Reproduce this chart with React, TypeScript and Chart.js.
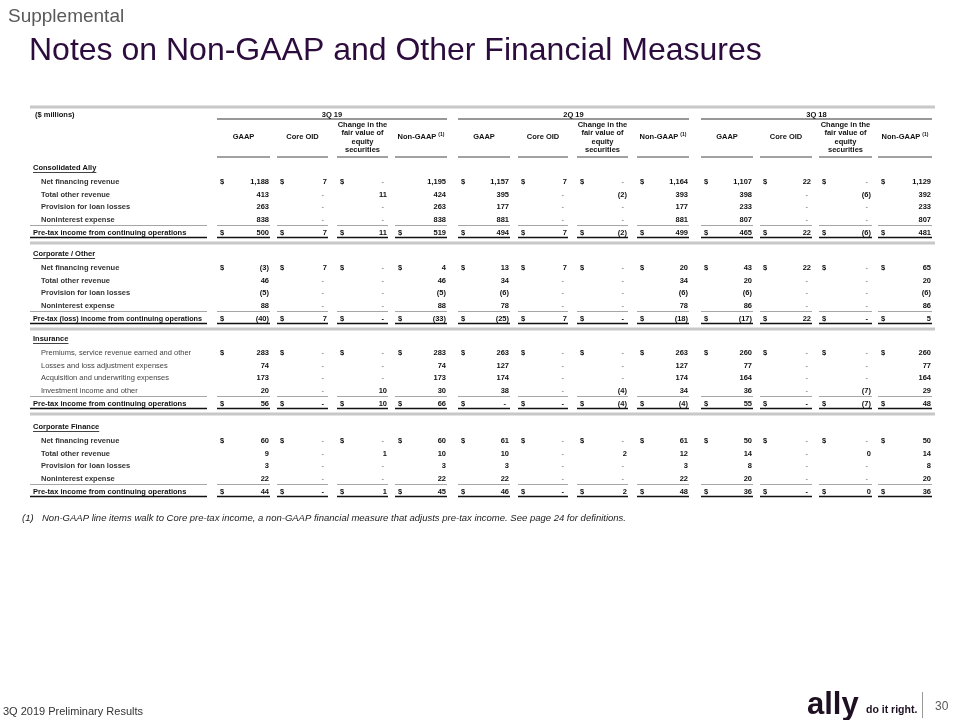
import React, { useEffect, useRef } from "react";
import { Chart, registerables } from "chart.js";

Chart.register(...registerables);

// ---------- DATA ----------
const periods = ["3Q 19", "2Q 19", "3Q 18"];
const columnHeaders = ["GAAP", "Core OID", "Change in the|fair value of|equity|securities", "Non-GAAP"];
const unitLabel = "($ millions)";
const sectionTitles = ["Consolidated Ally", "Corporate / Other", "Insurance", "Corporate Finance"];

const consolidatedRows = [
  "Net financing revenue",
  "Total other revenue",
  "Provision for loan losses",
  "Noninterest expense",
  "Pre-tax income from continuing operations",
];
// null = "-" (nil)
const consolidatedValues: (number | null)[][] = [
  [1188, 7, null, 1195, 1157, 7, null, 1164, 1107, 22, null, 1129],
  [413, null, 11, 424, 395, null, -2, 393, 398, null, -6, 392],
  [263, null, null, 263, 177, null, null, 177, 233, null, null, 233],
  [838, null, null, 838, 881, null, null, 881, 807, null, null, 807],
  [500, 7, 11, 519, 494, 7, -2, 499, 465, 22, -6, 481],
];

const corporateRows = [
  "Net financing revenue",
  "Total other revenue",
  "Provision for loan losses",
  "Noninterest expense",
  "Pre-tax (loss) income from continuing operations",
];
const corporateValues: (number | null)[][] = [
  [-3, 7, null, 4, 13, 7, null, 20, 43, 22, null, 65],
  [46, null, null, 46, 34, null, null, 34, 20, null, null, 20],
  [-5, null, null, -5, -6, null, null, -6, -6, null, null, -6],
  [88, null, null, 88, 78, null, null, 78, 86, null, null, 86],
  [-40, 7, null, -33, -25, 7, null, -18, -17, 22, null, 5],
];

const insuranceRows = [
  "Premiums, service revenue earned and other",
  "Losses and loss adjustment expenses",
  "Acquisition and underwriting expenses",
  "Investment income and other",
  "Pre-tax income from continuing operations",
];
const insuranceValues: (number | null)[][] = [
  [283, null, null, 283, 263, null, null, 263, 260, null, null, 260],
  [74, null, null, 74, 127, null, null, 127, 77, null, null, 77],
  [173, null, null, 173, 174, null, null, 174, 164, null, null, 164],
  [20, null, 10, 30, 38, null, -4, 34, 36, null, -7, 29],
  [56, null, 10, 66, null, null, -4, -4, 55, null, -7, 48],
];

const financeRows = [
  "Net financing revenue",
  "Total other revenue",
  "Provision for loan losses",
  "Noninterest expense",
  "Pre-tax income from continuing operations",
];
const financeValues: (number | null)[][] = [
  [60, null, null, 60, 61, null, null, 61, 50, null, null, 50],
  [9, null, 1, 10, 10, null, 2, 12, 14, null, 0, 14],
  [3, null, null, 3, 3, null, null, 3, 8, null, null, 8],
  [22, null, null, 22, 22, null, null, 22, 20, null, null, 20],
  [44, null, 1, 45, 46, null, 2, 48, 36, null, 0, 36],
];

// cells (section, row, column) that carry no "$" despite being a first/total row
const noDollarCells = [[0, 0, 3]];

const pageLabel = "Supplemental";
const titleText = "Notes on Non-GAAP and Other Financial Measures";
const footnoteMark = "(1)";
const footnoteText =
  "Non-GAAP line items walk to Core pre-tax income, a non-GAAP financial measure that adjusts pre-tax income. See page 24 for definitions.";
const footerText = "3Q 2019 Preliminary Results";
const pageNumber = "30";

// ---------- LAYOUT ----------
const FONT = "'Liberation Sans', Arial, Helvetica, sans-serif";
const COL_L = [217, 277, 337, 395, 458, 518, 577, 637, 701, 760, 819, 878];
const COL_R = [270, 328, 388, 447, 510, 568, 628, 689, 753, 812, 872, 932];
const SECTION_TOP = [168, 254, 339, 427];
const TABLE_L = 30;
const TABLE_R = 935;
const LABEL_R = 207;

function fmt(v: number | null): string {
  if (v === null) return "-";
  const s = Math.abs(v).toLocaleString("en-US");
  return v < 0 ? "(" + s + ")" : s;
}

const sectionsData = [
  { title: sectionTitles[0], rows: consolidatedRows, values: consolidatedValues, light: false },
  { title: sectionTitles[1], rows: corporateRows, values: corporateValues, light: false },
  { title: sectionTitles[2], rows: insuranceRows, values: insuranceValues, light: true },
  { title: sectionTitles[3], rows: financeRows, values: financeValues, light: false },
];

const tablePlugin = {
  id: "slideTable",
  afterDraw(chart: any) {
    const ctx: CanvasRenderingContext2D = chart.ctx;
    const xs = chart.scales.x;
    const ys = chart.scales.y;
    const X = (v: number) => xs.getPixelForValue(v);
    const Y = (v: number) => ys.getPixelForValue(v);

    const hline = (x1: number, x2: number, y: number, color: string, w: number) => {
      ctx.save();
      ctx.strokeStyle = color;
      ctx.lineWidth = w;
      ctx.beginPath();
      ctx.moveTo(X(x1), Y(y));
      ctx.lineTo(X(x2), Y(y));
      ctx.stroke();
      ctx.restore();
    };
    const text = (
      s: string,
      x: number,
      y: number,
      font: string,
      color: string,
      align: CanvasTextAlign = "left",
      baseline: CanvasTextBaseline = "middle",
      maxW?: number
    ) => {
      ctx.font = font;
      ctx.fillStyle = color;
      ctx.textAlign = align;
      ctx.textBaseline = baseline;
      if (maxW !== undefined) ctx.fillText(s, X(x), Y(y), maxW);
      else ctx.fillText(s, X(x), Y(y));
    };

    ctx.save();
    // --- slide header ---
    text(pageLabel, 8, 22, "19px " + FONT, "#595959", "left", "alphabetic");
    text(titleText, 29, 60, "32px " + FONT, "#2b0c3c", "left", "alphabetic");

    // --- table header ---
    const bold = "bold 7.5px " + FONT;
    const reg = "7.5px " + FONT;
    hline(TABLE_L, TABLE_R, 107, "#c8c8c8", 3);
    text(unitLabel, 35, 115, bold, "#111");
    periods.forEach((p, g) => {
      const l = COL_L[g * 4];
      const r = COL_R[g * 4 + 3];
      text(p, (l + r) / 2, 114.5, bold, "#111", "center");
      hline(l, r, 119, "#333", 1);
    });
    for (let c = 0; c < 12; c++) {
      const k = c % 4;
      const cx = (COL_L[c] + COL_R[c]) / 2;
      if (k === 2) {
        const lines = columnHeaders[2].split("|");
        lines.forEach((ln, i) => text(ln, cx, 124.5 + i * 8.5, bold, "#111", "center"));
      } else if (k === 3) {
        ctx.font = bold;
        const w1 = ctx.measureText(columnHeaders[3]).width;
        ctx.font = "bold 5px " + FONT;
        const w2 = ctx.measureText("(1)").width;
        const start = cx - (w1 + 2 + w2) / 2;
        text(columnHeaders[3], start, 137, bold, "#111");
        text("(1)", start + w1 + 2, 134.5, "bold 5px " + FONT, "#111");
      } else {
        text(columnHeaders[k], cx, 137, bold, "#111", "center");
      }
      hline(COL_L[c], COL_R[c], 157, "#444", 1);
    }

    // --- sections ---
    sectionsData.forEach((sec, si) => {
      const top = SECTION_TOP[si];
      // title (bold, underlined)
      text(sec.title, 33, top, bold, "#111");
      ctx.font = bold;
      const tw = ctx.measureText(sec.title).width;
      hline(33, 33 + tw, top + 4.5, "#111", 0.8);

      sec.rows.forEach((label, ri) => {
        const isTotal = ri === sec.rows.length - 1;
        const y = isTotal ? top + 64.5 : top + 13.8 + ri * 12.7;
        if (isTotal) {
          text(label, 33, y, bold, "#111", "left", "middle", LABEL_R - 38);
        } else if (sec.light) {
          text(label, 41, y, reg, "#444");
        } else {
          text(label, 41, y, bold, "#333");
        }
        const vals = sec.values[ri];
        vals.forEach((v, c) => {
          const showDollar =
            (ri === 0 || isTotal) && !noDollarCells.some((d) => d[0] === si && d[1] === ri && d[2] === c);
          if (showDollar) text("$", COL_L[c] + 3, y, bold, "#111");
          if (v === null) {
            text("-", COL_R[c] - 4, y, isTotal ? bold : reg, isTotal ? "#111" : "#666", "right");
          } else {
            text(fmt(v), COL_R[c] - 1, y, bold, "#111", "right");
          }
        });
        if (isTotal) {
          // gray rule above total, black rule below
          hline(TABLE_L, LABEL_R, y - 7, "#a6a6a6", 1);
          hline(TABLE_L, LABEL_R, y + 5, "#111", 1.5);
          for (let c = 0; c < 12; c++) {
            hline(COL_L[c], COL_R[c], y - 7, "#a6a6a6", 1);
            hline(COL_L[c], COL_R[c], y + 5, "#111", 1.5);
          }
          if (si < sectionsData.length - 1) hline(TABLE_L, TABLE_R, y + 10.5, "#c8c8c8", 3);
        }
      });
    });

    // --- footnote ---
    text(footnoteMark, 22, 518, "italic 9.5px " + FONT, "#222");
    text(footnoteText, 42, 518, "italic 9.5px " + FONT, "#222");

    // --- footer ---
    text(footerText, 3, 715, "11px " + FONT, "#333", "left", "alphabetic");
    text("ally", 807, 714, "bold 31px " + FONT, "#1e1022", "left", "alphabetic");
    text("do it right.", 866, 713, "bold 10.5px " + FONT, "#1e1022", "left", "alphabetic");
    ctx.strokeStyle = "#999";
    ctx.lineWidth = 1;
    ctx.beginPath();
    ctx.moveTo(X(922.5), Y(692));
    ctx.lineTo(X(922.5), Y(718));
    ctx.stroke();
    text(pageNumber, 935, 710, "12px " + FONT, "#595959", "left", "alphabetic");
    ctx.restore();
  },
};

export default function App() {
  const ref = useRef<HTMLCanvasElement | null>(null);
  useEffect(() => {
    if (!ref.current) return;
    const chart = new Chart(ref.current, {
      type: "scatter",
      data: { datasets: [{ data: [], pointRadius: 0 }] },
      options: {
        responsive: false,
        animation: false,
        devicePixelRatio: 1,
        events: [],
        layout: { padding: 0 },
        plugins: { legend: { display: false }, tooltip: { enabled: false }, title: { display: false } },
        scales: {
          x: { type: "linear", min: 0, max: 960, display: false },
          y: { type: "linear", min: 0, max: 720, reverse: true, display: false },
        },
      },
      plugins: [tablePlugin],
    });
    return () => chart.destroy();
  }, []);
  return (
    <div style={{ position: "absolute", left: 0, top: 0, width: 960, height: 720, background: "#fff" }}>
      <canvas ref={ref} width={960} height={720} style={{ display: "block", width: 960, height: 720 }} />
    </div>
  );
}
